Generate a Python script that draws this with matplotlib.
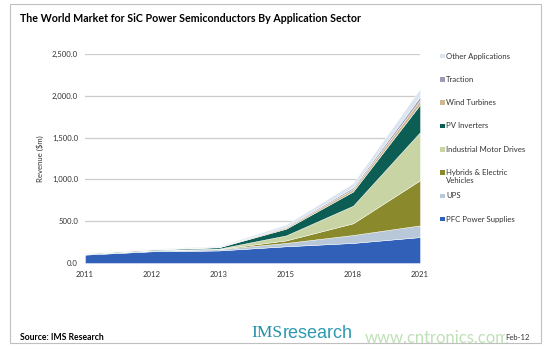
import matplotlib
matplotlib.use("Agg")
import matplotlib.pyplot as plt
from matplotlib.patches import Rectangle
from matplotlib.ticker import FuncFormatter

plt.rcParams['font.family'] = ['Lato', 'DejaVu Sans']

# data (values in $m)
years = ['2011', '2012', '2013', '2015', '2018', '2021']
pfc = [100, 140, 150, 200, 240, 310]
ups = [10, 10, 15, 40, 95, 140]
hybrids = [1, 2, 3, 30, 140, 540]
motor_drives = [2, 3, 5, 60, 210, 575]
pv = [5, 8, 15, 80, 170, 330]
wind = [1, 2, 3, 15, 30, 55]
traction = [1, 1, 2, 10, 20, 40]
other = [5, 5, 10, 25, 50, 95]

labels = ['PFC Power Supplies', 'UPS', 'Hybrids & Electric\nVehicles',
          'Industrial Motor Drives', 'PV Inverters', 'Wind Turbines',
          'Traction', 'Other Applications']
colors = ['#3060B8', '#B8C8D8', '#8A8A2C', '#C8D4A4', '#0C5E55',
          '#CDB88E', '#9C9CB8', '#DCE4F0']

fig = plt.figure(figsize=(5.54, 3.54), dpi=100)

# outer frame
fig.patches.append(Rectangle((10 / 554, 1 - 343 / 354), 531 / 554, 339 / 354,
                             transform=fig.transFigure, fill=False,
                             edgecolor='#BFBFBF', linewidth=0.8))

fig.text(20 / 554, 1 - 18 / 354,
         'The World Market for SiC Power Semiconductors By Application Sector',
         fontsize=7.7, fontweight='bold', va='center', ha='left')

ax = fig.add_axes([85 / 554, 1 - 263 / 354, 335 / 554, 209 / 354])
x = range(len(years))
ax.stackplot(x, pfc, ups, hybrids, motor_drives, pv, wind, traction, other,
             colors=colors, linewidth=0.3, edgecolor='white')

ax.set_xlim(0, len(years) - 1)
ax.set_ylim(0, 2500)
ax.set_yticks(range(0, 2501, 500))
ax.yaxis.set_major_formatter(FuncFormatter(lambda v, p: f'{v:,.1f}'))
ax.set_xticks(list(x))
ax.set_xticklabels(years)
ax.grid(axis='y', color='#CCCCCC', linewidth=0.9)
ax.set_axisbelow(True)
for s in ax.spines.values():
    s.set_visible(False)
ax.tick_params(axis='both', length=0, labelsize=5.6, colors='#333333')
ax.tick_params(axis='y', pad=5)
ax.tick_params(axis='x', pad=6)
ax.set_ylabel('Revenue ($m)', fontsize=5.6, color='#333333', labelpad=6)

# legend, top entry first
for i, (lab, col) in enumerate(zip(labels[::-1], colors[::-1])):
    yy = 1 - (56 + i * 23.3) / 354
    fig.patches.append(Rectangle((440 / 554, yy - 2.3 / 354), 4.5 / 554, 4.5 / 354,
                                 transform=fig.transFigure, facecolor=col,
                                 edgecolor='none'))
    if '\n' in lab:
        fig.text(446 / 554, yy + 4 / 354, lab, fontsize=5.6, color='#333333',
                 va='top', ha='left', linespacing=1.3)
    else:
        fig.text(446 / 554, yy, lab, fontsize=5.6, color='#333333',
                 va='center', ha='left')

fig.text(20 / 554, 1 - 338 / 354, 'Source: IMS Research', fontsize=6.2,
         fontweight='bold', va='center', ha='left')
fig.text(282 / 554, 1 - 333 / 354, 'IMS', fontsize=12.5, color='#1F8FA8',
         va='center', ha='right', family=['Liberation Serif'])
fig.text(283 / 554, 1 - 333 / 354, 'research', fontsize=13, color='#2C9AAE',
         va='center', ha='left', family=['Liberation Sans Narrow', 'Liberation Sans'])
fig.text(365 / 554, 1 - 338 / 354, 'www.cntronics.com', fontsize=12,
         color='#B8DDB0', va='center', ha='left', alpha=0.9)
fig.text(530 / 554, 1 - 338 / 354, 'Feb-12', fontsize=5.5, color='#333333',
         va='center', ha='right',
         bbox=dict(facecolor='white', edgecolor='none', pad=0.5))

fig.savefig('out.png', dpi=100)
